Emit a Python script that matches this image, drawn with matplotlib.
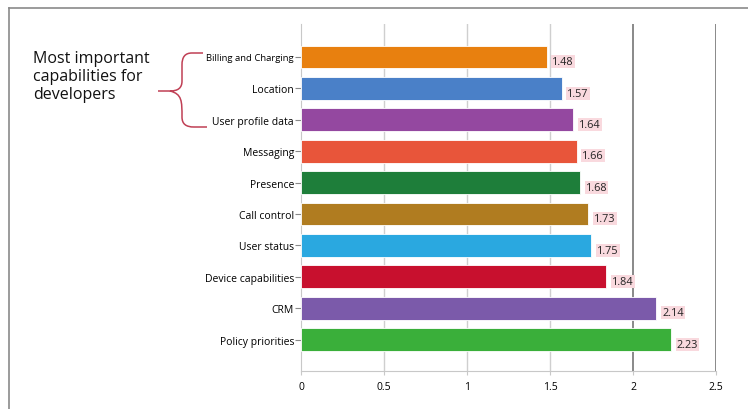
"""
Horizontal bar chart: most important capabilities for developers.
"""

import matplotlib.pyplot as plt
from matplotlib.path import Path
from matplotlib.patches import PathPatch

# data, top to bottom as shown
capabilities = [
    "Billing and Charging", "Location", "User profile data", "Messaging",
    "Presence", "Call control", "User status", "Device capabilities",
    "CRM", "Policy priorities",
]
scores = [1.48, 1.57, 1.64, 1.66, 1.68, 1.73, 1.75, 1.84, 2.14, 2.23]
bar_colors = [
    "#E8800F", "#4A80C8", "#9448A0", "#E8553A", "#1E7E3A",
    "#B07C20", "#2AA8E0", "#C8102E", "#7B5AAA", "#3AAF3A",
]
x_ticks = [0, 0.5, 1, 1.5, 2, 2.5]
x_tick_labels = ["0", "0.5", "1", "1.5", "2", "2.5"]

plt.rcParams["font.family"] = ["Open Sans", "DejaVu Sans"]

fig = plt.figure(figsize=(7.48, 4.10), dpi=100)

# background overlay in pixel coords for the frame, title text and brace
bg = fig.add_axes([0, 0, 1, 1])
bg.set_xlim(0, 748)
bg.set_ylim(410, 0)
bg.axis("off")
bg.plot([9, 748], [9, 9], color="#8a8a8a", lw=1.2)
bg.plot([9, 9], [9, 410], color="#8a8a8a", lw=1.2)
bg.text(33, 77, "Most important\ncapabilities for\ndevelopers",
        fontsize=11.5, color="#111111", va="center", ha="left",
        linespacing=1.2)

verts = [
    (203, 54), (192, 54),
    (185, 54), (182, 58), (182, 66),
    (182, 82),
    (182, 89), (178, 92), (170, 92),
    (158, 92),
    (170, 92), (182, 95), (182, 102),
    (182, 118),
    (182, 125), (186, 128), (194, 128),
    (207, 128),
]
codes = [
    Path.MOVETO, Path.LINETO,
    Path.CURVE4, Path.CURVE4, Path.CURVE4,
    Path.LINETO,
    Path.CURVE4, Path.CURVE4, Path.CURVE4,
    Path.LINETO,
    Path.MOVETO, Path.CURVE4, Path.CURVE4,
    Path.LINETO,
    Path.CURVE4, Path.CURVE4, Path.CURVE4,
    Path.LINETO,
]
bg.add_patch(PathPatch(Path(verts, codes), fill=False,
                       edgecolor="#C04055", lw=1.1))

ax = fig.add_axes([0.4024, 0.0927, 0.5548, 0.8463])
ypos = list(range(len(capabilities) - 1, -1, -1))
ax.barh(ypos, scores, height=0.73, color=bar_colors,
        edgecolor="#ffffff", linewidth=0.6, zorder=3)

for y, v in zip(ypos, scores):
    ax.text(v + 0.035, y - 0.15, f"{v:.2f}", fontsize=7.8, va="center",
            ha="left", color="#222222",
            bbox=dict(boxstyle="square,pad=0.1", fc="#F9D9DE", ec="none"))

ax.set_xlim(0, 2.5)
ax.set_ylim(-1, 10.05)
ax.set_xticks(x_ticks)
ax.set_xticklabels(x_tick_labels, fontsize=7.5)
ax.set_yticks(ypos)
ax.set_yticklabels(capabilities, fontsize=7.5)
# the first label is drawn narrower in the original
for lbl in ax.get_yticklabels():
    if lbl.get_text() == "Billing and Charging":
        lbl.set_fontsize(6.8)

# grid: light for the first lines, darker for 2 and 2.5
for x in x_ticks[1:4]:
    ax.axvline(x, color="#cfcfcf", lw=1.0, zorder=1)
for x in x_ticks[4:]:
    ax.axvline(x, color="#808080", lw=1.3, zorder=1)

for side in ["top", "right"]:
    ax.spines[side].set_visible(False)
ax.spines["left"].set_color("#c8c8c8")
ax.spines["bottom"].set_color("#c8c8c8")
ax.tick_params(axis="y", length=4, color="#888888", pad=1)
ax.tick_params(axis="x", length=3, color="#c8c8c8", pad=4)

fig.savefig("out.png", dpi=100)
